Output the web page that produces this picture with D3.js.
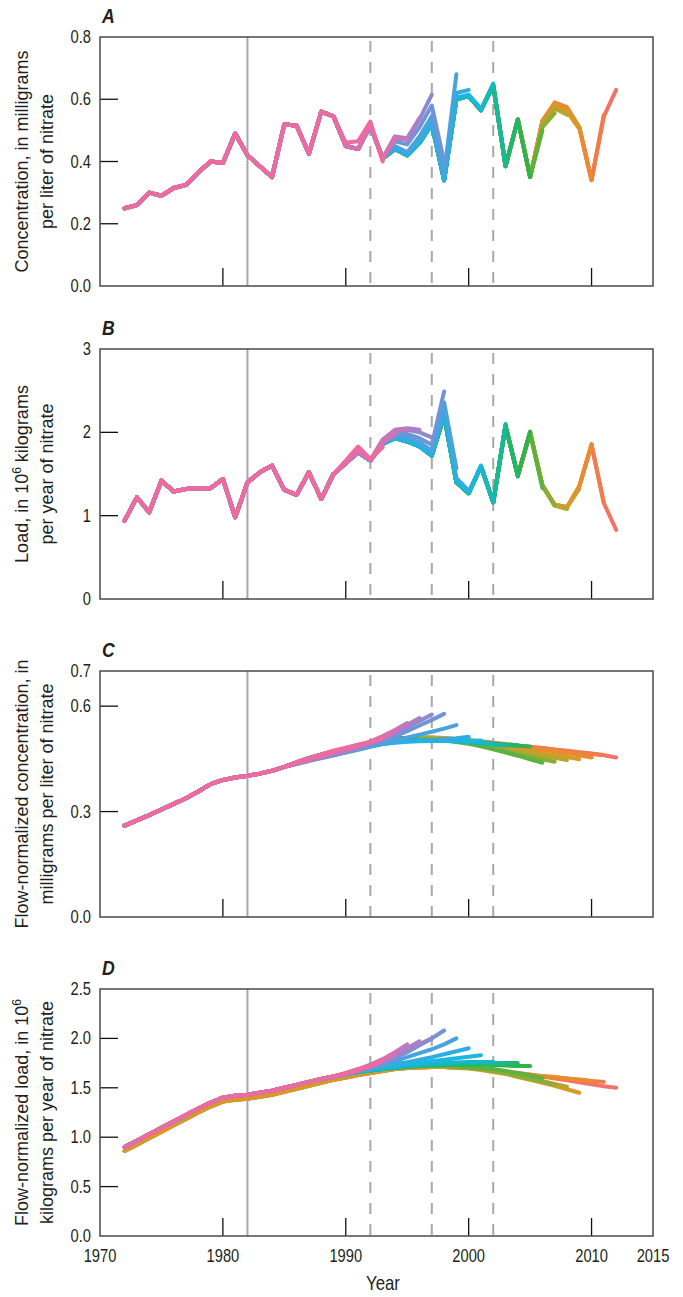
<!DOCTYPE html>
<html><head><meta charset="utf-8">
<script src="https://cdn.jsdelivr.net/npm/d3@7"></script>
<style>
body{margin:0;background:#fff;}
text{font-family:"Liberation Sans",Arial,sans-serif;fill:#231f20;}
</style></head><body>
<svg id="chart" width="683" height="1297"></svg>
<script>
// ---------------- DATA ----------------
const years = [1972,1973,1974,1975,1976,1977,1978,1979,1980,1981,1982,1983,1984,1985,1986,1987,1988,1989,1990,1991,1992,1993,1994,1995,1996,1997,1998,1999,2000,2001,2002,2003,2004,2005,2006,2007,2008,2009,2010,2011,2012];
const endYears = [1993,1994,1995,1996,1997,1998,1999,2000,2001,2002,2003,2004,2005,2006,2007,2008,2009,2010,2011,2012];
const seriesColors = ["#ee6a9f","#dc6fae","#c477bd","#ab7fc7","#9088cf","#6f95d7","#4aa2de","#2daee3","#1bb7e2","#14b9c2","#17b89c","#1fb672","#2fb34d","#5db23e","#8aae35","#b8a52c","#d79a29","#e98b2e","#f07d47","#f3736b"];

const xTicks = [1980,1990,2000,2010];
const xTickLabels = [1970,1980,1990,2000,2010,2015];
const yTicksA = [0,0.2,0.4,0.6,0.8];
const yTicksB = [0,1,2,3];
const yTicksC = [0,0.3,0.6,0.7];
const yTicksD = [0,0.5,1.0,1.5,2.0,2.5];

// A: annual concentration (series ending 2012 = base); tails = last years of each series
const concBase = [0.25,0.26,0.30,0.29,0.315,0.325,0.365,0.40,0.395,0.49,0.42,0.385,0.35,0.52,0.515,0.425,0.56,0.545,
  0.45,0.44,0.515,0.41,0.44,0.42,0.46,0.52,0.34,0.60,0.61,0.565,0.645,0.385,0.535,0.35,0.53,0.585,0.57,0.51,0.34,0.545,0.63];
const concTails = [
  [0.46,0.465,0.528,0.40],
  [0.52,0.41,0.47],
  [0.41,0.48,0.47],
  [0.41,0.48,0.475,0.54],
  [0.405,0.475,0.47,0.535,0.615],
  [0.465,0.455,0.51,0.58,0.40],
  [0.45,0.43,0.48,0.545,0.36,0.68],
  [0.445,0.425,0.47,0.53,0.345,0.62,0.63],
  [0.525,0.34,0.605,0.615,0.57],
  [0.60,0.61,0.565,0.65],
  [0.645,0.39],
  [0.385,0.535],
  [0.535,0.35],
  [0.35,0.50],
  [0.35,0.51,0.555],
  [0.52,0.57,0.55],
  [0.525,0.58,0.56,0.505],
  [0.59,0.575,0.51,0.34],
  [0.51,0.34,0.55],
  []
];

// B: annual load
const loadBase = [0.94,1.22,1.04,1.42,1.29,1.32,1.33,1.33,1.44,0.98,1.40,1.52,1.60,1.31,1.25,1.52,1.20,1.50,
  1.63,1.76,1.66,1.86,1.93,1.89,1.83,1.72,2.20,1.40,1.27,1.59,1.16,2.08,1.48,2.00,1.36,1.13,1.10,1.35,1.85,1.15,0.83];
const loadTails = [
  [1.66,1.83,1.68,1.82],
  [1.80,1.67,1.88,1.98],
  [1.67,1.90,2.02,2.04],
  [1.91,2.03,2.05,2.03],
  [1.91,2.02,2.03,2.00,1.94],
  [1.90,1.99,1.98,1.93,1.85,2.49],
  [1.96,1.94,1.88,1.78,2.36,1.57],
  [1.92,1.86,1.75,2.30,1.45,1.30],
  [1.73,2.25,1.42,1.28,1.60],
  [2.22,1.41,1.27,1.59,1.17],
  [1.16,2.10],
  [2.08,1.47],
  [1.48,2.01],
  [1.99,1.33],
  [1.37,1.12],
  [1.12,1.08],
  [1.10,1.32],
  [1.35,1.86],
  [1.85,1.15],
  []
];

// C: flow-normalized concentration
const fnConcBase = [0.260,0.275,0.290,0.306,0.322,0.338,0.357,0.378,0.390,0.397,
  0.402,0.408,0.416,0.427,0.440,0.452,0.462,0.471,0.480,0.489,
  0.497,0.503,0.507,0.509,0.510,0.510,0.509,0.506,0.502,0.498,
  0.494,0.490,0.487,0.484,0.481,0.477,0.473,0.469,0.465,0.460,0.454];
const fnConcTails = [
  [0.441,0.452,0.463,0.473,0.482,0.490,0.498,0.508],
  [0.440,0.450,0.460,0.469,0.478,0.488,0.499,0.511,0.528],
  [0.438,0.448,0.457,0.466,0.475,0.486,0.499,0.515,0.532,0.552],
  [0.437,0.446,0.455,0.464,0.473,0.484,0.497,0.512,0.529,0.547,0.566],
  [0.436,0.445,0.453,0.462,0.471,0.481,0.493,0.507,0.523,0.540,0.558,0.576],
  [0.435,0.444,0.452,0.460,0.469,0.478,0.489,0.501,0.514,0.529,0.545,0.561,0.578],
  [0.452,0.460,0.468,0.476,0.485,0.494,0.503,0.511,0.519,0.527,0.536,0.546],
  [0.453,0.461,0.469,0.477,0.485,0.492,0.497,0.500,0.502,0.504,0.506,0.509,0.513],
  [0.455,0.463,0.471,0.479,0.486,0.492,0.496,0.499,0.500,0.501,0.501,0.501,0.501,0.502],
  [0.476,0.484,0.491,0.496,0.499,0.501,0.502,0.502,0.501,0.500,0.498,0.496,0.494],
  [0.477,0.485,0.492,0.497,0.500,0.502,0.503,0.503,0.502,0.500,0.497,0.494,0.491,0.488],
  [0.503,0.503,0.502,0.501,0.499,0.497,0.494,0.491,0.489],
  [0.503,0.503,0.502,0.500,0.498,0.495,0.492,0.489,0.487,0.485],
  [0.505,0.504,0.502,0.498,0.493,0.486,0.477,0.468,0.459,0.449,0.439],
  [0.507,0.506,0.504,0.500,0.495,0.488,0.480,0.472,0.464,0.457,0.449,0.442],
  [0.506,0.503,0.498,0.492,0.485,0.478,0.471,0.465,0.459,0.453,0.447],
  [0.507,0.504,0.500,0.495,0.489,0.483,0.477,0.471,0.466,0.460,0.455,0.449],
  [0.503,0.499,0.495,0.490,0.486,0.481,0.476,0.471,0.466,0.460,0.454],
  [0.503,0.500,0.496,0.492,0.488,0.484,0.480,0.476,0.472,0.468,0.464,0.461],
  []
];

// D: flow-normalized load (base = lowest, later series; hiEarly = upper early band)
const fnLoadBase = [0.86,0.925,0.99,1.055,1.12,1.185,1.25,1.31,1.36,1.38,
  1.39,1.41,1.43,1.46,1.49,1.52,1.55,1.58,1.605,1.63,
  1.65,1.67,1.69,1.70,1.705,1.71,1.71,1.705,1.70,1.69,
  1.68,1.665,1.65,1.635,1.615,1.595,1.575,1.555,1.535,1.515,1.50];
const fnLoadHiEarly = [0.90,0.965,1.03,1.095,1.16,1.225,1.29,1.35,1.40,1.42,
  1.43,1.45,1.47,1.50,1.53,1.56,1.59,1.615,1.64,1.66,
  1.675,1.69,1.705,1.715,1.72,1.72];
const fnLoadTails = [
  [1.59,1.615,1.645,1.68,1.72,1.77],
  [1.59,1.615,1.645,1.68,1.725,1.78,1.85],
  [1.59,1.615,1.65,1.69,1.735,1.79,1.86,1.94],
  [1.59,1.615,1.645,1.68,1.725,1.775,1.83,1.90,1.97],
  [1.585,1.61,1.64,1.675,1.715,1.76,1.82,1.88,1.94,2.00],
  [1.585,1.61,1.635,1.67,1.705,1.75,1.80,1.86,1.93,2.00,2.08],
  [1.585,1.61,1.635,1.665,1.695,1.73,1.77,1.81,1.85,1.89,1.94,2.00],
  [1.64,1.665,1.69,1.715,1.74,1.76,1.785,1.81,1.84,1.87,1.90],
  [1.64,1.66,1.685,1.705,1.725,1.74,1.755,1.77,1.785,1.80,1.815,1.83],
  [1.68,1.695,1.71,1.725,1.735,1.745,1.75,1.755,1.76,1.76,1.76],
  [1.675,1.69,1.705,1.715,1.725,1.735,1.74,1.745,1.75,1.75,1.75,1.75],
  [1.705,1.715,1.725,1.73,1.74,1.745,1.75,1.75,1.75,1.75,1.75],
  [1.70,1.71,1.72,1.725,1.73,1.735,1.735,1.735,1.73,1.725,1.72,1.72],
  [1.72,1.725,1.725,1.72,1.71,1.70,1.69,1.67,1.65,1.625,1.60],
  [1.72,1.72,1.72,1.71,1.70,1.69,1.67,1.65,1.62,1.59,1.56,1.53],
  [1.715,1.71,1.70,1.69,1.67,1.65,1.62,1.595,1.57,1.54,1.51],
  [1.71,1.70,1.695,1.68,1.66,1.64,1.61,1.58,1.55,1.52,1.485,1.45],
  [1.70,1.69,1.675,1.66,1.645,1.63,1.62,1.61,1.595,1.585,1.57],
  [1.70,1.69,1.675,1.66,1.645,1.63,1.615,1.605,1.595,1.58,1.57,1.56],
  []
];
const hiEarlyLastEnd = 2008;

const refSolid = [1982];
const refDashed = [1992,1997,2002];

// ---------------- BUILD ----------------
function buildSeries(base, tails, hiEarly){
  return endYears.map((end, i) => {
    const tail = tails[i];
    const tStart = end - tail.length + 1;
    const pts = [];
    years.forEach((yr, k) => {
      if (yr > end) return;
      let v;
      if (yr >= tStart) v = tail[yr - tStart];
      else if (hiEarly && end <= hiEarlyLastEnd && k < hiEarly.length) v = hiEarly[k];
      else v = base[k];
      pts.push({year: yr, value: v});
    });
    return {end, color: seriesColors[i], pts};
  });
}

const svg = d3.select("#chart");
const x = d3.scaleLinear().domain([1970, 2015]).range([100, 653]);
const NARROW = 0.84;

function condText(g, tx, ty, str, size, anchor, opts){
  const t = g.append("text").attr("transform", `translate(${tx},${ty}) scale(${NARROW},1)`)
    .attr("text-anchor", anchor).attr("font-size", size).text(str);
  if (opts && opts.bold) t.attr("font-weight", "bold");
  if (opts && opts.italic) t.attr("font-style", "italic");
  return t;
}

const panels = [
  {letter:"A", top:37, bottom:286, domain:[0,0.8], ticks:yTicksA, fmt:d3.format(".1f"),
   title:[["Concentration, in milligrams"],["per liter of nitrate"]], series:buildSeries(concBase, concTails, null)},
  {letter:"B", top:349, bottom:599, domain:[0,3], ticks:yTicksB, fmt:d3.format("d"),
   title:[["Load, in 10","6"," kilograms"],["per year of nitrate"]], series:buildSeries(loadBase, loadTails, null)},
  {letter:"C", top:671, bottom:917, domain:[0,0.7], ticks:yTicksC, fmt:d3.format(".1f"),
   title:[["Flow-normalized concentration, in"],["milligrams per liter of nitrate"]], series:buildSeries(fnConcBase, fnConcTails, null)},
  {letter:"D", top:989, bottom:1236, domain:[0,2.5], ticks:yTicksD, fmt:d3.format(".1f"),
   title:[["Flow-normalized load, in 10","6"],["kilograms per year of nitrate"]], series:buildSeries(fnLoadBase, fnLoadTails, fnLoadHiEarly)}
];

panels.forEach((p, pi) => {
  const y = d3.scaleLinear().domain(p.domain).range([p.bottom, p.top]);
  const g = svg.append("g");

  // reference lines
  refSolid.forEach(yr => g.append("line").attr("x1", x(yr)).attr("x2", x(yr))
    .attr("y1", p.top).attr("y2", p.bottom).attr("stroke", "#a8a8a8").attr("stroke-width", 2));
  refDashed.forEach(yr => g.append("line").attr("x1", x(yr)).attr("x2", x(yr))
    .attr("y1", p.top + 4).attr("y2", p.bottom).attr("stroke", "#a8a8a8").attr("stroke-width", 2)
    .attr("stroke-dasharray", "11,10"));

  // data lines: latest end year first, earliest on top
  const line = d3.line().x(d => x(d.year)).y(d => y(d.value));
  p.series.slice().reverse().forEach(s => {
    g.append("path").datum(s.pts).attr("d", line).attr("fill", "none")
      .attr("stroke", s.color).attr("stroke-width", 4)
      .attr("stroke-linecap", "round").attr("stroke-linejoin", "round");
  });

  // ticks (inward)
  xTicks.forEach(t => g.append("line").attr("x1", x(t)).attr("x2", x(t))
    .attr("y1", p.bottom).attr("y2", p.bottom - 18).attr("stroke", "#111").attr("stroke-width", 1.3));
  p.ticks.forEach(t => {
    if (t > p.domain[0] && t < p.domain[1])
      g.append("line").attr("x1", 100).attr("x2", 118).attr("y1", y(t)).attr("y2", y(t))
        .attr("stroke", "#111").attr("stroke-width", 1.3);
    condText(g, 91, y(t) + 6, p.fmt(t), 17.5, "end");
  });

  // frame
  g.append("rect").attr("x", 100).attr("y", p.top).attr("width", 553).attr("height", p.bottom - p.top)
    .attr("fill", "none").attr("stroke", "#4a4a4a").attr("stroke-width", 1.5);

  // letter
  condText(g, 102, p.top - 14, p.letter, 21, "start", {bold:true, italic:true});

  // y title
  const cy = (p.top + p.bottom) / 2;
  [28, 53].forEach((bx, li) => {
    const parts = p.title[li];
    const t = g.append("text").attr("transform", `translate(${bx},${cy}) rotate(-90)`)
      .attr("text-anchor", "middle").attr("font-size", 18);
    parts.forEach((s, k) => {
      if (k === 1) t.append("tspan").attr("dy", -7).attr("font-size", 12).text(s);
      else if (k === 2) t.append("tspan").attr("dy", 7).text(s);
      else t.append("tspan").text(s);
    });
  });

  if (pi === panels.length - 1) {
    xTickLabels.forEach(t => condText(g, x(t), p.bottom + 26, String(t), 17.5, "middle"));
    condText(g, 383, 1290, "Year", 20, "middle");
  }
});
</script>
</body></html>
